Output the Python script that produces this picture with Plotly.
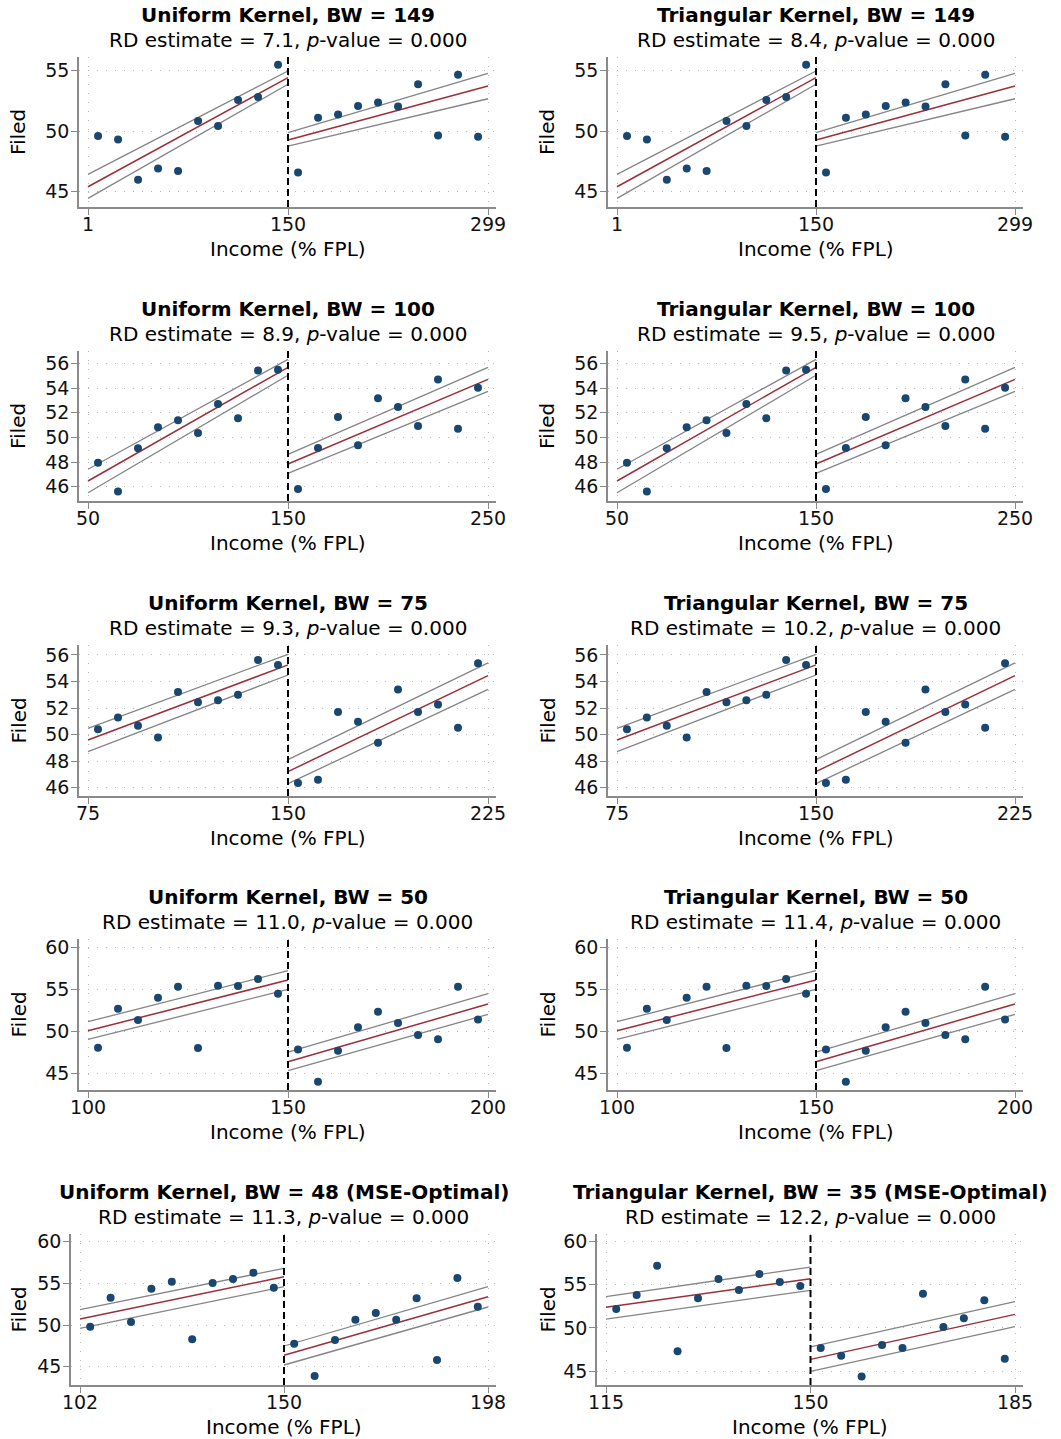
import plotly.graph_objects as go

# ---------------- data ----------------
# Binned means, shared by uniform/triangular panels with the same bandwidth
bw149_left_x = [8.5, 23.4, 38.3, 53.2, 68.1, 83.0, 97.9, 112.8, 127.7, 142.6]
bw149_left_y = [49.59, 49.31, 45.99, 46.92, 46.70, 50.82, 50.41, 52.55, 52.80, 55.47]
bw149_right_x = [157.5, 172.4, 187.3, 202.2, 217.1, 232.0, 246.9, 261.8, 276.7, 291.6]
bw149_right_y = [46.59, 51.10, 51.37, 52.06, 52.36, 52.03, 53.85, 49.64, 54.64, 49.53]

bw100_left_x = [55, 65, 75, 85, 95, 105, 115, 125, 135, 145]
bw100_left_y = [47.95, 45.62, 49.11, 50.81, 51.38, 50.35, 52.70, 51.54, 55.41, 55.49]
bw100_right_x = [155, 165, 175, 185, 195, 205, 215, 225, 235, 245]
bw100_right_y = [45.81, 49.14, 51.65, 49.35, 53.16, 52.46, 50.92, 54.68, 50.70, 54.03]

bw75_left_x = [78.75, 86.25, 93.75, 101.25, 108.75, 116.25, 123.75, 131.25, 138.75, 146.25]
bw75_left_y = [50.40, 51.28, 50.67, 49.77, 53.21, 52.43, 52.58, 53.01, 55.62, 55.25]
bw75_right_x = [153.75, 161.25, 168.75, 176.25, 183.75, 191.25, 198.75, 206.25, 213.75, 221.25]
bw75_right_y = [46.35, 46.60, 51.70, 50.97, 49.39, 53.39, 51.70, 52.26, 50.52, 55.37]

bw50_left_x = [102.5, 107.5, 112.5, 117.5, 122.5, 127.5, 132.5, 137.5, 142.5, 147.5]
bw50_left_y = [48.03, 52.70, 51.34, 54.02, 55.33, 47.99, 55.45, 55.41, 56.25, 54.50]
bw50_right_x = [152.5, 157.5, 162.5, 167.5, 172.5, 177.5, 182.5, 187.5, 192.5, 197.5]
bw50_right_y = [47.83, 43.96, 47.67, 50.47, 52.34, 50.99, 49.55, 49.03, 55.33, 51.42]

bw48_left_x = [104.4, 109.2, 114.0, 118.8, 123.6, 128.4, 133.2, 138.0, 142.8, 147.6]
bw48_left_y = [49.80, 53.28, 50.36, 54.36, 55.20, 48.28, 55.04, 55.52, 56.28, 54.48]
bw48_right_x = [152.4, 157.2, 162.0, 166.8, 171.6, 176.4, 181.2, 186.0, 190.8, 195.6]
bw48_right_y = [47.76, 43.88, 48.20, 50.64, 51.44, 50.64, 53.20, 45.80, 55.64, 52.20]

bw35_left_x = [116.75, 120.25, 123.75, 127.25, 130.75, 134.25, 137.75, 141.25, 144.75, 148.25]
bw35_left_y = [52.19, 53.82, 57.22, 47.28, 53.43, 55.67, 54.40, 56.25, 55.32, 54.86]
bw35_right_x = [151.75, 155.25, 158.75, 162.25, 165.75, 169.25, 172.75, 176.25, 179.75, 183.25]
bw35_right_y = [47.67, 46.78, 44.38, 48.02, 47.67, 53.97, 50.10, 51.11, 53.20, 46.43]

# Fitted lines and CI bounds: values at [lower end, cutoff] (left) and [cutoff, upper end] (right)
bw149_fit_left, bw149_hi_left, bw149_lo_left = [45.41, 54.40], [46.43, 54.95], [44.45, 53.85]
bw149_fit_right, bw149_hi_right, bw149_lo_right = [49.26, 53.71], [49.86, 54.75], [48.76, 52.66]
bw100_fit_left, bw100_hi_left, bw100_lo_left = [46.46, 55.68], [47.41, 56.32], [45.51, 55.03]
bw100_fit_right, bw100_hi_right, bw100_lo_right = [47.84, 54.70], [48.62, 55.68], [47.08, 53.73]
bw75_fit_left, bw75_hi_left, bw75_lo_left = [49.59, 55.25], [50.47, 56.05], [48.71, 54.49]
bw75_fit_right, bw75_hi_right, bw75_lo_right = [47.21, 54.44], [48.11, 55.40], [46.30, 53.41]
bw50_fit_left, bw50_hi_left, bw50_lo_left = [50.07, 56.13], [51.14, 57.25], [49.03, 55.01]
bw50_fit_right, bw50_hi_right, bw50_lo_right = [46.36, 53.26], [47.51, 54.50], [45.28, 52.02]
bw48_fit_left, bw48_hi_left, bw48_lo_left = [50.72, 55.80], [51.84, 56.80], [49.60, 54.60]
bw48_fit_right, bw48_hi_right, bw48_lo_right = [46.36, 53.40], [47.48, 54.60], [45.20, 52.16]
bw35_fit_left, bw35_hi_left, bw35_lo_left = [52.39, 55.71], [53.62, 57.06], [51.03, 54.36]
bw35_fit_right, bw35_hi_right, bw35_lo_right = [46.35, 51.57], [47.79, 53.04], [44.96, 50.14]

# Tick labels
xticks_149 = [1, 150, 299]
xticks_100 = [50, 150, 250]
xticks_75 = [75, 150, 225]
xticks_50 = [100, 150, 200]
xticks_48 = [102, 150, 198]
xticks_35 = [115, 150, 185]
yticks_r1 = [45, 50, 55]
yticks_r2 = [46, 48, 50, 52, 54, 56]
yticks_r3 = [46, 48, 50, 52, 54, 56]
yticks_r45 = [45, 50, 55, 60]

titles = [
    "Uniform Kernel, BW = 149", "Triangular Kernel, BW = 149",
    "Uniform Kernel, BW = 100", "Triangular Kernel, BW = 100",
    "Uniform Kernel, BW = 75", "Triangular Kernel, BW = 75",
    "Uniform Kernel, BW = 50", "Triangular Kernel, BW = 50",
    "Uniform Kernel, BW = 48 (MSE-Optimal)", "Triangular Kernel, BW = 35 (MSE-Optimal)",
]
rd_estimates = ["7.1", "8.4", "8.9", "9.5", "9.3", "10.2", "11.0", "11.4", "11.3", "12.2"]
p_values = ["0.000"] * 10
cutoff = 150

# ---------------- panel definitions ----------------
def pts(lx, ly, rx, ry):
    return dict(lx=lx, ly=ly, rx=rx, ry=ry)

def fits(fl, hl, ll, fr, hr, lr):
    return dict(fl=fl, hl=hl, ll=ll, fr=fr, hr=hr, lr=lr)

p149 = pts(bw149_left_x, bw149_left_y, bw149_right_x, bw149_right_y)
p100 = pts(bw100_left_x, bw100_left_y, bw100_right_x, bw100_right_y)
p75 = pts(bw75_left_x, bw75_left_y, bw75_right_x, bw75_right_y)
p50 = pts(bw50_left_x, bw50_left_y, bw50_right_x, bw50_right_y)
p48 = pts(bw48_left_x, bw48_left_y, bw48_right_x, bw48_right_y)
p35 = pts(bw35_left_x, bw35_left_y, bw35_right_x, bw35_right_y)

f149 = fits(bw149_fit_left, bw149_hi_left, bw149_lo_left, bw149_fit_right, bw149_hi_right, bw149_lo_right)
f100 = fits(bw100_fit_left, bw100_hi_left, bw100_lo_left, bw100_fit_right, bw100_hi_right, bw100_lo_right)
f75 = fits(bw75_fit_left, bw75_hi_left, bw75_lo_left, bw75_fit_right, bw75_hi_right, bw75_lo_right)
f50 = fits(bw50_fit_left, bw50_hi_left, bw50_lo_left, bw50_fit_right, bw50_hi_right, bw50_lo_right)
f48 = fits(bw48_fit_left, bw48_hi_left, bw48_lo_left, bw48_fit_right, bw48_hi_right, bw48_lo_right)
f35 = fits(bw35_fit_left, bw35_hi_left, bw35_lo_left, bw35_fit_right, bw35_hi_right, bw35_lo_right)

# (points, fits, xticks, yticks, yrange)
panel_data = [
    (p149, f149, xticks_149, yticks_r1, [43.74, 56.1]),
    (p149, f149, xticks_149, yticks_r1, [43.74, 56.1]),
    (p100, f100, xticks_100, yticks_r2, [44.84, 57.0]),
    (p100, f100, xticks_100, yticks_r2, [44.84, 57.0]),
    (p75, f75, xticks_75, yticks_r3, [45.37, 56.75]),
    (p75, f75, xticks_75, yticks_r3, [45.37, 56.75]),
    (p50, f50, xticks_50, yticks_r45, [42.97, 61.04]),
    (p50, f50, xticks_50, yticks_r45, [42.97, 61.04]),
    (p48, f48, xticks_48, yticks_r45, [42.8, 60.92]),
    (p35, f35, xticks_35, yticks_r45, [43.38, 60.89]),
]

# pixel geometry of plot regions (left, right, top, bottom)
W, H = 1061, 1439
row_tops = [57, 351, 645, 939, 1234]
row_bots = [207, 501, 796, 1090, 1385]
col_lr = [(79, 496), (608, 1023)]
col_lr_last = [(71, 496), (597, 1023)]

FONT = "DejaVu Sans"
NAVY = "#1a476f"
MAROON = "#9b2f3a"
GRAY = "#858585"
AXIS = "#8a8a8a"
GRID = "#b8b8b8"

fig = go.Figure()
annotations = []
shapes = []
layout_axes = {}

for i, (P, F, xt, yt, yr) in enumerate(panel_data):
    row, col = divmod(i, 2)
    L, R = (col_lr_last if row == 4 else col_lr)[col]
    T, B = row_tops[row], row_bots[row]
    a, b = xt[0], xt[-1]
    span_px = R - L - 17
    xr = [a - 9 * (b - a) / span_px, b + 8 * (b - a) / span_px]
    n = i + 1
    suffix = "" if n == 1 else str(n)
    xa, ya = f"x{suffix}", f"y{suffix}"
    xkey, ykey = f"xaxis{suffix}", f"yaxis{suffix}"
    common = dict(
        showline=True, linecolor=AXIS, linewidth=1.5,
        ticks="outside", ticklen=6, tickwidth=1.2, tickcolor=AXIS,
        showgrid=True, gridcolor=GRID, gridwidth=1, griddash="1px,8px",
        zeroline=False, tickfont=dict(family=FONT, size=19, color="#111"),
        fixedrange=True, automargin=False,
    )
    layout_axes[xkey] = dict(
        common, domain=[L / W, R / W], anchor=ya, range=xr,
        tickmode="array", tickvals=xt, ticktext=[str(v) for v in xt],
        ticklabelstandoff=-7,
    )
    layout_axes[ykey] = dict(
        common, domain=[1 - B / H, 1 - T / H], anchor=xa, range=yr,
        tickmode="array", tickvals=yt, ticktext=[str(v) for v in yt],
        ticklabelstandoff=-2,
    )

    # CI bounds (gray) and fit (maroon)
    for side, xs in (("l", [a, cutoff]), ("r", [cutoff, b])):
        for key, color, w in ((f"h{side}", GRAY, 1.3), (f"l{side}", GRAY, 1.3), (f"f{side}", MAROON, 1.5)):
            fig.add_trace(go.Scatter(
                x=xs, y=F[key], mode="lines", xaxis=xa, yaxis=ya,
                line=dict(color=color, width=w), showlegend=False, hoverinfo="skip"))
    # binned points
    fig.add_trace(go.Scatter(
        x=P["lx"] + P["rx"], y=P["ly"] + P["ry"], mode="markers", xaxis=xa, yaxis=ya,
        marker=dict(color=NAVY, size=8, line=dict(width=0)), showlegend=False))

    # cutoff dashed line
    shapes.append(dict(type="line", xref=xa, yref=f"{ya} domain", x0=cutoff, x1=cutoff,
                       y0=0, y1=1, line=dict(color="black", width=2, dash="7px,4px")))

    cx = (L + R) / 2 / W
    annotations.append(dict(text=f"<b>{titles[i]}</b>", x=cx, y=1 - (T - 42) / H,
                            xref="paper", yref="paper", xanchor="center", yanchor="middle",
                            showarrow=False, font=dict(family=FONT, size=20, color="black")))
    annotations.append(dict(text=f"RD estimate = {rd_estimates[i]}, <i>p</i>-value = {p_values[i]}",
                            x=cx, y=1 - (T - 17) / H,
                            xref="paper", yref="paper", xanchor="center", yanchor="middle",
                            showarrow=False, font=dict(family=FONT, size=20, color="black")))
    annotations.append(dict(text="Income (% FPL)", x=cx, y=1 - (B + 42) / H,
                            xref="paper", yref="paper", xanchor="center", yanchor="middle",
                            showarrow=False, font=dict(family=FONT, size=20, color="black")))
    annotations.append(dict(text="Filed", x=(18 if col == 0 else 547) / W, y=1 - (T + B) / 2 / H,
                            xref="paper", yref="paper", xanchor="center", yanchor="middle",
                            textangle=-90, showarrow=False,
                            font=dict(family=FONT, size=20, color="black")))

fig.update_layout(
    width=W, height=H, margin=dict(l=0, r=0, t=0, b=0, autoexpand=False),
    paper_bgcolor="white", plot_bgcolor="white",
    font=dict(family=FONT, color="black"),
    annotations=annotations, shapes=shapes, showlegend=False,
    **layout_axes,
)

fig.write_html("out.html")
